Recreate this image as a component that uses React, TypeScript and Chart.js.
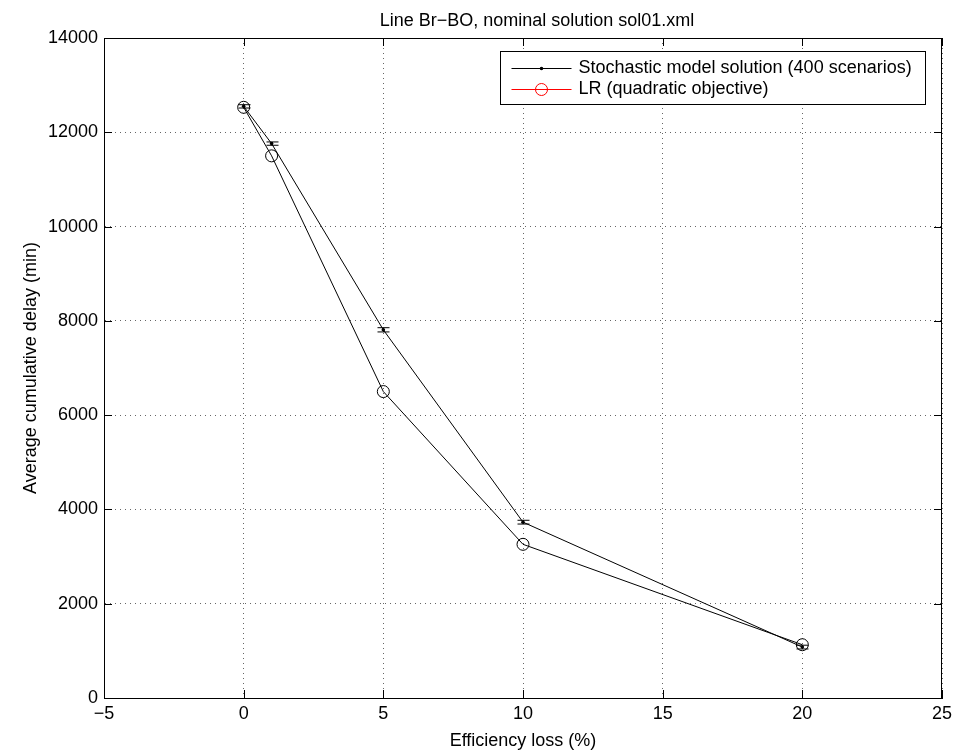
import { useEffect, useRef } from 'react';
import { Chart, registerables } from 'chart.js';

Chart.register(...registerables);

const efficiencyLoss = [0, 1, 5, 10, 20];
const stochasticDelay = [12550, 11760, 7810, 3730, 1080];
const stochasticError = [35, 35, 45, 40, 40];
const lrDelay = [12530, 11500, 6500, 3260, 1130];
const seriesLabels = ['Stochastic model solution (400 scenarios)', 'LR (quadratic objective)'];
const legendColors = ['#000000', '#ff0000'];
const titleText = 'Line Br\u2212BO, nominal solution sol01.xml';
const xLabel = 'Efficiency loss (%)';
const yLabel = 'Average cumulative delay (min)';
const xMin = -5;
const xMax = 25;
const xStep = 5;
const yMin = 0;
const yMax = 14000;
const yStep = 2000;

const FONT = '"Liberation Sans", Arial, Helvetica, sans-serif';
const FS = 18;

const fmt = (v: number) => (v < 0 ? '\u2212' + Math.abs(v) : String(v));

const matlabPlugin = {
  id: 'matlabLook',
  afterDatasetsDraw(chart: any) {
    const { ctx, scales } = chart;
    const x = scales.x;
    const y = scales.y;
    ctx.save();
    ctx.strokeStyle = '#000';
    ctx.lineWidth = 1;
    efficiencyLoss.forEach((v, i) => {
      const px = Math.round(x.getPixelForValue(v)) + 0.5;
      const t = y.getPixelForValue(stochasticDelay[i] + stochasticError[i]);
      const b = y.getPixelForValue(stochasticDelay[i] - stochasticError[i]);
      ctx.beginPath();
      ctx.moveTo(px, t);
      ctx.lineTo(px, b);
      ctx.moveTo(px - 6, t);
      ctx.lineTo(px + 6, t);
      ctx.moveTo(px - 6, b);
      ctx.lineTo(px + 6, b);
      ctx.stroke();
    });
    ctx.restore();
  },
  afterDraw(chart: any) {
    const { ctx, chartArea, scales } = chart;
    const { left, right, top, bottom } = chartArea;
    const x = scales.x;
    const y = scales.y;
    ctx.save();
    ctx.strokeStyle = '#000';
    ctx.lineWidth = 1;
    // box
    ctx.strokeRect(left + 0.5, top + 0.5, right - left - 1, bottom - top);
    // inward ticks
    const tl = 8;
    ctx.beginPath();
    x.ticks.forEach((tk: any) => {
      const px = Math.round(x.getPixelForValue(tk.value)) + 0.5;
      ctx.moveTo(px, bottom);
      ctx.lineTo(px, bottom - tl);
      ctx.moveTo(px, top);
      ctx.lineTo(px, top + tl);
    });
    y.ticks.forEach((tk: any) => {
      const py = Math.round(y.getPixelForValue(tk.value)) + 0.5;
      ctx.moveTo(left, py);
      ctx.lineTo(left + tl, py);
      ctx.moveTo(right, py);
      ctx.lineTo(right - tl, py);
    });
    ctx.stroke();

    // title
    ctx.fillStyle = '#000';
    ctx.font = `${FS}px ${FONT}`;
    ctx.textAlign = 'center';
    ctx.textBaseline = 'middle';
    ctx.fillText(titleText, 537, 21);

    // legend
    const labels = chart.data.datasets.map((d: any) => d.label);
    const textW = Math.max(...labels.map((l: string) => ctx.measureText(l).width));
    const lw = Math.round(textW + 92);
    const lr = right - 17;
    const ll = Math.round(lr - lw) + 0.5;
    const lt = top + 13.5;
    const lh = 53;
    ctx.fillStyle = '#fff';
    ctx.fillRect(ll, lt, lw, lh);
    ctx.strokeStyle = '#000';
    ctx.strokeRect(ll, lt, lw, lh);
    labels.forEach((l: string, i: number) => {
      const ry = Math.round(lt + 16 + i * 21) + 0.5;
      const c = legendColors[i];
      ctx.strokeStyle = c;
      ctx.fillStyle = c;
      ctx.beginPath();
      ctx.moveTo(ll + 11, ry);
      ctx.lineTo(ll + 71, ry);
      ctx.stroke();
      if (i === 0) {
        ctx.beginPath();
        ctx.arc(ll + 41, ry, 1.8, 0, Math.PI * 2);
        ctx.fill();
      } else {
        ctx.beginPath();
        ctx.arc(ll + 41, ry, 6, 0, Math.PI * 2);
        ctx.stroke();
      }
      ctx.fillStyle = '#000';
      ctx.textAlign = 'left';
      ctx.textBaseline = 'middle';
      ctx.fillText(l, ll + 78, ry);
    });
    ctx.restore();
  },
};

export default function App() {
  const ref = useRef<HTMLCanvasElement | null>(null);
  useEffect(() => {
    if (!ref.current) return;
    Chart.defaults.font.family = FONT;
    Chart.defaults.font.size = FS;
    Chart.defaults.color = '#000';
    const chart = new Chart(ref.current, {
      type: 'line',
      data: {
        datasets: [
          {
            label: seriesLabels[0],
            data: efficiencyLoss.map((v, i) => ({ x: v, y: stochasticDelay[i] })),
            borderColor: '#000',
            borderWidth: 1,
            pointRadius: 1.8,
            pointBackgroundColor: '#000',
            pointBorderWidth: 0,
            tension: 0,
          },
          {
            label: seriesLabels[1],
            data: efficiencyLoss.map((v, i) => ({ x: v, y: lrDelay[i] })),
            borderColor: '#000',
            borderWidth: 1,
            pointStyle: 'circle',
            pointRadius: 6,
            pointBorderColor: '#000',
            pointBackgroundColor: 'rgba(0,0,0,0)',
            pointBorderWidth: 1,
            tension: 0,
          },
        ],
      },
      options: {
        animation: false,
        responsive: false,
        devicePixelRatio: 1,
        layout: { padding: { left: 0, top: 38, right: 27, bottom: 0 } },
        plugins: {
          legend: { display: false },
          title: { display: false },
          tooltip: { enabled: false },
        },
        scales: {
          x: {
            type: 'linear',
            min: xMin,
            max: xMax,
            ticks: { stepSize: xStep, padding: 5, callback: (v: any) => fmt(Number(v)), color: '#000', font: { size: FS } },
            grid: { color: 'rgba(0,0,0,0.6)', drawTicks: false, lineWidth: 1 },
            border: { display: true, color: '#000', dash: [1, 4] },
            title: { display: true, text: xLabel, color: '#000', font: { size: FS }, padding: { top: 0, bottom: 2 } },
            afterFit: (s: any) => {
              s.height = 56;
            },
          },
          y: {
            type: 'linear',
            min: yMin,
            max: yMax,
            ticks: { stepSize: yStep, padding: 6, callback: (v: any) => fmt(Number(v)), color: '#000', font: { size: FS } },
            grid: { color: 'rgba(0,0,0,0.6)', drawTicks: false, lineWidth: 1 },
            border: { display: true, color: '#000', dash: [1, 4] },
            title: { display: true, text: yLabel, color: '#000', font: { size: FS }, padding: { top: 20, bottom: 0 } },
            afterFit: (s: any) => {
              s.width = 104;
            },
          },
        },
      },
      plugins: [matlabPlugin],
    } as any);
    return () => chart.destroy();
  }, []);
  return (
    <div style={{ position: 'fixed', left: 0, top: 0, width: 969, height: 754, background: '#fff' }}>
      <canvas ref={ref} width={969} height={754} style={{ display: 'block' }} />
    </div>
  );
}
